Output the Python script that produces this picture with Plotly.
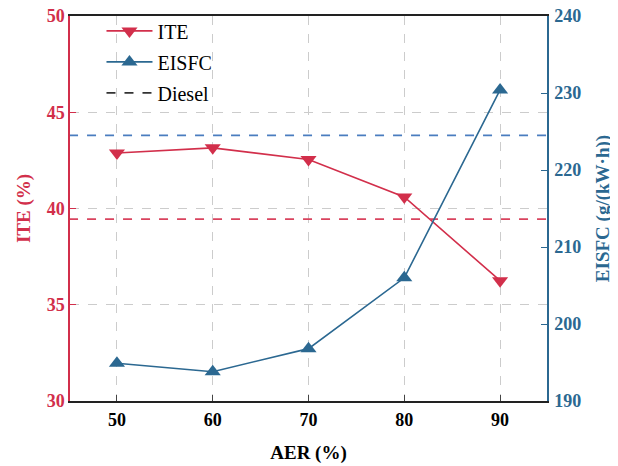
import plotly.graph_objects as go

aer = [50, 60, 70, 80, 90]
ite = [42.88, 43.15, 42.55, 40.6, 36.25]
eisfc = [194.9, 193.8, 196.8, 206.0, 230.4]
diesel_ite = 39.45
diesel_eisfc = 224.5

red = "#d22f4b"
blue = "#2b6891"
red_d = "#d9435e"
blue_d = "#4a7dbf"
font_fam = "Liberation Serif, Times New Roman, serif"

fig = go.Figure()
fig.add_trace(go.Scatter(x=aer, y=ite, name="ITE", mode="lines+markers", legendgroup="g1",
                         line=dict(color=red, width=1.6),
                         marker=dict(symbol="triangle-down", size=14, color=red)))
fig.add_trace(go.Scatter(x=aer, y=eisfc, name="EISFC", mode="lines+markers", yaxis="y2",
                         legendgroup="g2",
                         line=dict(color=blue, width=1.6),
                         marker=dict(symbol="triangle-up", size=14, color=blue)))
fig.add_trace(go.Scatter(x=[None], y=[None], name="Diesel", mode="lines", legendgroup="g3",
                         line=dict(color="#333333", width=1.6, dash="dash")))
fig.add_trace(go.Scatter(x=[45, 95], y=[diesel_ite, diesel_ite], mode="lines", showlegend=False,
                         line=dict(color=red_d, width=1.6, dash="dash"), hoverinfo="skip"))
fig.add_trace(go.Scatter(x=[45, 95], y=[diesel_eisfc, diesel_eisfc], mode="lines", yaxis="y2",
                         showlegend=False, line=dict(color=blue_d, width=1.6, dash="dash"),
                         hoverinfo="skip"))

fig.update_layout(
    width=618, height=466,
    margin=dict(l=62, r=79, t=8, b=73, autoexpand=False),
    paper_bgcolor="white", plot_bgcolor="white",
    font=dict(family=font_fam, size=18, color="black"),
    showlegend=True,
    legend=dict(x=0.066, y=1.012, xanchor="left", yanchor="top",
                bgcolor="rgba(0,0,0,0)", font=dict(size=20, family=font_fam),
                tracegroupgap=2, itemwidth=46),
    xaxis=dict(range=[45.1, 94.9], tickvals=aer, ticks="inside", ticklen=6, automargin=False,
               showline=True, linecolor="#222222", linewidth=1.5, mirror=True,
               showgrid=True, gridcolor="#cccccc", griddash="dash", gridwidth=1,
               zeroline=False, ticklabelstandoff=2, ticklabeloverflow="allow",
               tickfont=dict(family=font_fam, size=18, color="black", weight="bold"),
               title=dict(text="<b>AER (%)</b>", font=dict(size=19, family=font_fam), standoff=16)),
    yaxis=dict(range=[30, 50], tickvals=[30, 35, 40, 45, 50], ticks="inside", ticklen=6, automargin=False,
               tickcolor=red, showline=True, linecolor=red, linewidth=1.5,
               showgrid=True, gridcolor="#cccccc", griddash="dash", gridwidth=1,
               zeroline=False, ticklabeloverflow="allow",
               tickfont=dict(family=font_fam, size=18, color=red, weight="bold"),
               title=dict(text="<b>ITE (%)</b>", font=dict(size=19, family=font_fam, color=red), standoff=11)),
    yaxis2=dict(range=[190, 240], tickvals=[190, 200, 210, 220, 230, 240], overlaying="y", side="right",
                ticks="inside", ticklen=6, tickcolor=blue, showline=True, linecolor=blue, linewidth=1.5,
                showgrid=False, zeroline=False, automargin=False, ticklabelstandoff=2,
                ticklabeloverflow="allow",
                tickfont=dict(family=font_fam, size=18, color=blue, weight="bold"),
                title=dict(text="<b>EISFC (g/(kW·h))</b>", font=dict(size=19, family=font_fam, color=blue), standoff=15)),
)

fig.write_html("out.html")
